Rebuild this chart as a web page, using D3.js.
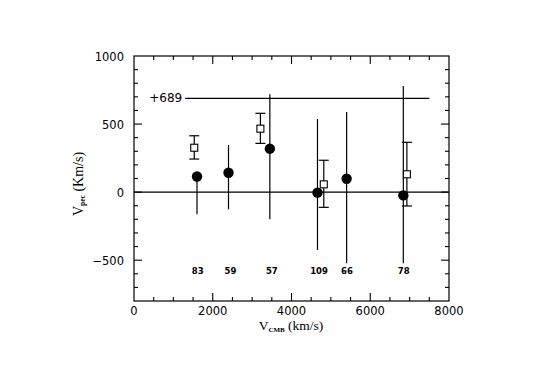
<!DOCTYPE html>
<html><head><meta charset="utf-8">
<script src="https://cdn.jsdelivr.net/npm/d3@7"></script>
<style>body{margin:0;background:#fff;}svg{display:block;}</style>
</head><body>
<script>
// Filled circles: x, y, lower, upper
const circleX = [1600, 2400, 3450, 4660, 5400, 6840];
const circleY = [115, 142, 319, -4, 98, -24];
const circleLo = [-163, -126, -200, -425, -523, -523];
const circleHi = [120, 346, 719, 537, 588, 779];
// Open squares: x, y, lower, upper
const squareX = [1530, 3210, 4820, 6930];
const squareY = [326, 466, 57, 131];
const squareLo = [243, 358, -112, -102];
const squareHi = [414, 579, 234, 366];
// Count labels
const countLabels = ["83", "59", "57", "109", "66", "78"];
const countX = [1620, 2450, 3500, 4700, 5410, 6850];
const countY = -577;
// Reference line
const refValue = 689;
const refX = [1300, 7500];
const xTicks = [0, 2000, 4000, 6000, 8000];
const yTicks = [-500, 0, 500, 1000];

const W = 536, H = 365;
const svg = d3.select("body").append("svg").attr("width", W).attr("height", H);
const x = d3.scaleLinear().domain([0, 8000]).range([134, 449]);
const y = d3.scaleLinear().domain([-800, 1000]).range([301, 56]);
const font = "DejaVu Sans, sans-serif";

// frame
svg.append("rect").attr("x", 134).attr("y", 56).attr("width", 315).attr("height", 245)
  .attr("fill", "none").attr("stroke", "#000").attr("stroke-width", 1.2);

// ticks
const g = svg.append("g").attr("stroke", "#000").attr("stroke-width", 1.1);
d3.range(0, 8001, 500).forEach(v => {
  const len = v % 2000 === 0 ? 8 : 4;
  if (v === 0 || v === 8000) return;
  g.append("line").attr("x1", x(v)).attr("x2", x(v)).attr("y1", 301).attr("y2", 301 - len);
  g.append("line").attr("x1", x(v)).attr("x2", x(v)).attr("y1", 56).attr("y2", 56 + len);
});
d3.range(-800, 1001, 100).forEach(v => {
  const len = v % 500 === 0 ? 8 : 4;
  if (v === -800 || v === 1000) return;
  g.append("line").attr("x1", 134).attr("x2", 134 + len).attr("y1", y(v)).attr("y2", y(v));
  g.append("line").attr("x1", 449).attr("x2", 449 - len).attr("y1", y(v)).attr("y2", y(v));
});

// tick labels
svg.append("g").selectAll("text").data(xTicks).join("text")
  .attr("x", d => x(d)).attr("y", 315).attr("text-anchor", "middle")
  .attr("font-family", font).attr("font-size", 11.5).text(d => d);
svg.append("g").selectAll("text").data(yTicks).join("text")
  .attr("x", 124).attr("y", d => y(d) + 4.5).attr("text-anchor", "end")
  .attr("font-family", font).attr("font-size", 11.5).text(d => d < 0 ? "\u2212" + (-d) : d);

// axis titles
const xt = svg.append("text").attr("x", 291).attr("y", 330).attr("text-anchor", "middle")
  .attr("font-family", "Liberation Serif, serif").attr("font-size", 13.5);
xt.append("tspan").text("V");
xt.append("tspan").attr("font-size", 7).attr("dy", 2).attr("font-weight", "bold").text("CMB");
xt.append("tspan").attr("dy", -2).text(" (km/s)");

const yt = svg.append("text").attr("transform", "translate(83,184) rotate(-90)").attr("text-anchor", "middle")
  .attr("font-family", "Liberation Serif, serif").attr("font-size", 14);
yt.append("tspan").text("V");
yt.append("tspan").attr("font-size", 7.5).attr("dy", 2).attr("font-weight", "bold").text("pec");
yt.append("tspan").attr("dy", -2).text(" (Km/s)");

// zero line
svg.append("line").attr("x1", x(0)).attr("x2", x(8000)).attr("y1", y(0)).attr("y2", y(0))
  .attr("stroke", "#000").attr("stroke-width", 1.2);
// reference line
svg.append("line").attr("x1", x(refX[0])).attr("x2", x(refX[1])).attr("y1", y(refValue)).attr("y2", y(refValue))
  .attr("stroke", "#000").attr("stroke-width", 1.2);
svg.append("text").attr("x", x(refX[0]) - 3).attr("y", y(refValue) + 4).attr("text-anchor", "end")
  .attr("font-family", font).attr("font-size", 12).text("+" + refValue);

// circle error bars
circleX.forEach((cx, i) => {
  svg.append("line").attr("x1", x(cx)).attr("x2", x(cx)).attr("y1", y(circleLo[i])).attr("y2", y(circleHi[i]))
    .attr("stroke", "#000").attr("stroke-width", 1.2);
  svg.append("circle").attr("cx", x(cx)).attr("cy", y(circleY[i])).attr("r", 5.2).attr("fill", "#000");
});
// square error bars
squareX.forEach((sx, i) => {
  const px = x(sx);
  svg.append("line").attr("x1", px).attr("x2", px).attr("y1", y(squareLo[i])).attr("y2", y(squareHi[i]))
    .attr("stroke", "#000").attr("stroke-width", 1.2);
  [squareLo[i], squareHi[i]].forEach(v => {
    svg.append("line").attr("x1", px - 5).attr("x2", px + 5).attr("y1", y(v)).attr("y2", y(v))
      .attr("stroke", "#000").attr("stroke-width", 1.2);
  });
  svg.append("rect").attr("x", px - 3.5).attr("y", y(squareY[i]) - 3.5).attr("width", 7).attr("height", 7)
    .attr("fill", "#fff").attr("stroke", "#000").attr("stroke-width", 1.1);
});

// count labels
svg.append("g").selectAll("text").data(countLabels).join("text")
  .attr("x", (d, i) => x(countX[i])).attr("y", y(countY) + 3.5).attr("text-anchor", "middle")
  .attr("font-family", font).attr("font-size", 8.5).attr("font-weight", "bold").text(d => d);
</script>
</body></html>
